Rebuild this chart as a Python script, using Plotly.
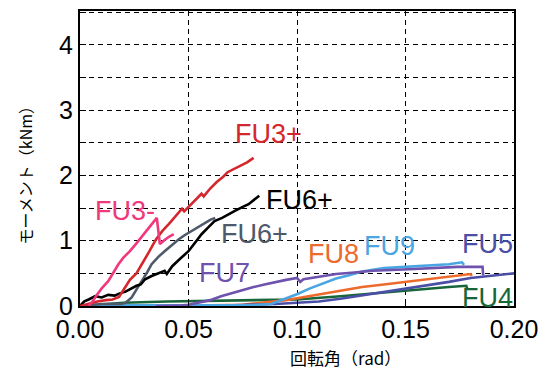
import plotly.graph_objects as go

# ---- data (rotation angle in rad, moment in kNm) ----
fu4_x = [0, 0.01, 0.02, 0.04, 0.06, 0.08, 0.10, 0.12, 0.14, 0.16, 0.17, 0.178, 0.1785]
fu4_y = [0, 0.02, 0.05, 0.07, 0.08, 0.09, 0.10, 0.15, 0.21, 0.26, 0.29, 0.31, 0.26]

fu8_x = [0, 0.03, 0.06, 0.075, 0.085, 0.095, 0.10, 0.11, 0.12, 0.13, 0.14, 0.15, 0.16, 0.17, 0.18, 0.1805]
fu8_y = [0, 0.0, 0.01, 0.02, 0.05, 0.09, 0.12, 0.18, 0.24, 0.29, 0.33, 0.37, 0.41, 0.45, 0.49, 0.46]

fu5_x = [0, 0.04, 0.07, 0.09, 0.10, 0.11, 0.12, 0.13, 0.14, 0.15, 0.16, 0.17, 0.18, 0.19, 0.20]
fu5_y = [0, 0, 0.01, 0.03, 0.05, 0.07, 0.11, 0.16, 0.21, 0.26, 0.32, 0.37, 0.43, 0.46, 0.50]

fu9_x = [0, 0.03, 0.06, 0.08, 0.088, 0.094, 0.10, 0.106, 0.112, 0.118, 0.124, 0.13, 0.14, 0.15, 0.16, 0.17, 0.176, 0.177]
fu9_y = [0.01, 0.01, 0.01, 0.015, 0.03, 0.10, 0.18, 0.27, 0.35, 0.42, 0.47, 0.53, 0.58, 0.60, 0.62, 0.64, 0.67, 0.63]

fu7_x = [0.035, 0.045, 0.050, 0.055, 0.060, 0.065, 0.070, 0.075, 0.080, 0.085, 0.090, 0.095, 0.100, 0.1015, 0.103, 0.110, 0.118, 0.125, 0.135, 0.149, 0.160, 0.174, 0.1855, 0.1858]
fu7_y = [0, 0.005, 0.02, 0.05, 0.09, 0.15, 0.20, 0.24, 0.29, 0.33, 0.37, 0.40, 0.43, 0.37, 0.41, 0.45, 0.49, 0.51, 0.54, 0.56, 0.58, 0.60, 0.60, 0.47]

fu6g_x = [0, 0.005, 0.010, 0.015, 0.019, 0.021, 0.0238, 0.026, 0.0285, 0.031, 0.033, 0.036, 0.039, 0.042, 0.0454, 0.048, 0.0515, 0.055, 0.0577, 0.060, 0.0623]
fu6g_y = [0, 0.02, 0.03, 0.03, 0.03, 0.05, 0.13, 0.25, 0.38, 0.52, 0.64, 0.75, 0.84, 0.93, 1.02, 1.08, 1.15, 1.22, 1.28, 1.32, 1.35]

fu6b_x = [0, 0.002, 0.004, 0.007, 0.010, 0.013, 0.016, 0.018, 0.021, 0.024, 0.026, 0.028, 0.030, 0.033, 0.036, 0.039, 0.040, 0.0425, 0.046, 0.050, 0.053, 0.056, 0.059, 0.062, 0.0655, 0.068, 0.0716, 0.075, 0.0777, 0.0826]
fu6b_y = [0, 0.07, 0.10, 0.15, 0.13, 0.17, 0.16, 0.19, 0.22, 0.28, 0.31, 0.33, 0.41, 0.46, 0.50, 0.54, 0.49, 0.61, 0.72, 0.84, 0.97, 1.10, 1.20, 1.30, 1.35, 1.40, 1.46, 1.52, 1.56, 1.69]

fu3p_x = [0, 0.004, 0.008, 0.012, 0.015, 0.018, 0.020, 0.023, 0.026, 0.029, 0.032, 0.035, 0.038, 0.041, 0.044, 0.046, 0.047, 0.048, 0.051, 0.054, 0.056, 0.057, 0.060, 0.063, 0.066, 0.068, 0.071, 0.074, 0.077, 0.080]
fu3p_y = [0, 0.04, 0.07, 0.09, 0.10, 0.14, 0.25, 0.40, 0.50, 0.66, 0.84, 1.02, 1.15, 1.26, 1.37, 1.44, 1.49, 1.45, 1.55, 1.64, 1.72, 1.68, 1.80, 1.90, 1.98, 2.05, 2.10, 2.15, 2.20, 2.27]

fu3m_x = [0.004, 0.006, 0.008, 0.010, 0.013, 0.016, 0.0177, 0.020, 0.023, 0.026, 0.0285, 0.031, 0.033, 0.0354, 0.0368, 0.039, 0.041, 0.0432]
fu3m_y = [0, 0.08, 0.18, 0.27, 0.38, 0.54, 0.64, 0.74, 0.84, 0.96, 1.07, 1.17, 1.25, 1.35, 0.95, 1.01, 1.06, 1.10]

x_ticks = [0.00, 0.05, 0.10, 0.15, 0.20]
x_tick_text = ["0.00", "0.05", "0.10", "0.15", "0.20"]
y_ticks = [0, 0.5, 1, 1.5, 2, 2.5, 3, 3.5, 4, 4.5]
y_tick_text = ["0", "", "1", "", "2", "", "3", "", "4", ""]

series = [
    ("FU4", fu4_x, fu4_y, "#17663a"),
    ("FU8", fu8_x, fu8_y, "#ec6a2c"),
    ("FU5", fu5_x, fu5_y, "#4a4ea6"),
    ("FU9", fu9_x, fu9_y, "#4aa6e2"),
    ("FU7", fu7_x, fu7_y, "#6e52ae"),
    ("FU6+ (gray)", fu6g_x, fu6g_y, "#4e5a6a"),
    ("FU6+", fu6b_x, fu6b_y, "#000000"),
    ("FU3+", fu3p_x, fu3p_y, "#d3272d"),
    ("FU3-", fu3m_x, fu3m_y, "#f0387c"),
]

labels = [
    ("FU3+", 0.087, 2.64, "#d3272d"),
    ("FU3-", 0.0208, 1.45, "#f0387c"),
    ("FU6+", 0.101, 1.63, "#000000"),
    ("FU6+", 0.0803, 1.11, "#4e5a6a"),
    ("FU7", 0.0665, 0.50, "#6e52ae"),
    ("FU8", 0.117, 0.80, "#ec6a2c"),
    ("FU9", 0.1426, 0.925, "#4aa6e2"),
    ("FU5", 0.1877, 0.95, "#4a4ea6"),
    ("FU4", 0.1877, 0.13, "#17663a"),
]

fig = go.Figure()
for name, xs, ys, col in series:
    fig.add_trace(go.Scatter(x=xs, y=ys, mode="lines", name=name,
                             line=dict(color=col, width=2.6), showlegend=False))

for txt, lx, ly, col in labels:
    fig.add_annotation(x=lx, y=ly, text=txt, showarrow=False,
                       xanchor="center", yanchor="middle",
                       font=dict(family="Liberation Sans, Arial", size=27, color=col))

fig.add_annotation(xref="paper", yref="paper", x=0.6115, y=-0.176, text="回転角（rad）",
                   showarrow=False, xanchor="center", yanchor="middle",
                   font=dict(family="Noto Sans CJK JP", size=17, color="black"))
fig.add_annotation(xref="paper", yref="paper", x=-0.126, y=0.457, text="モーメント（kNm）",
                   showarrow=False, xanchor="center", yanchor="middle", textangle=-90,
                   font=dict(family="Noto Sans CJK JP", size=16, color="black"))

axis_common = dict(showline=True, linecolor="black", linewidth=2, mirror=True,
                   showgrid=True, gridcolor="black", gridwidth=1, griddash="5px,4px",
                   zeroline=False, ticks="inside", ticklen=6, tickwidth=1, tickcolor="black",
                   tickfont=dict(family="Liberation Sans, Arial", size=25, color="black"))

fig.update_xaxes(range=[0, 0.2], tickvals=x_ticks, ticktext=x_tick_text, **axis_common)
fig.update_yaxes(range=[0, 4.52], tickvals=y_ticks, ticktext=y_tick_text, **axis_common)

fig.update_layout(width=547, height=370, margin=dict(l=80, r=32, t=9, b=64),
                  plot_bgcolor="white", paper_bgcolor="white")

fig.write_html("out.html")
